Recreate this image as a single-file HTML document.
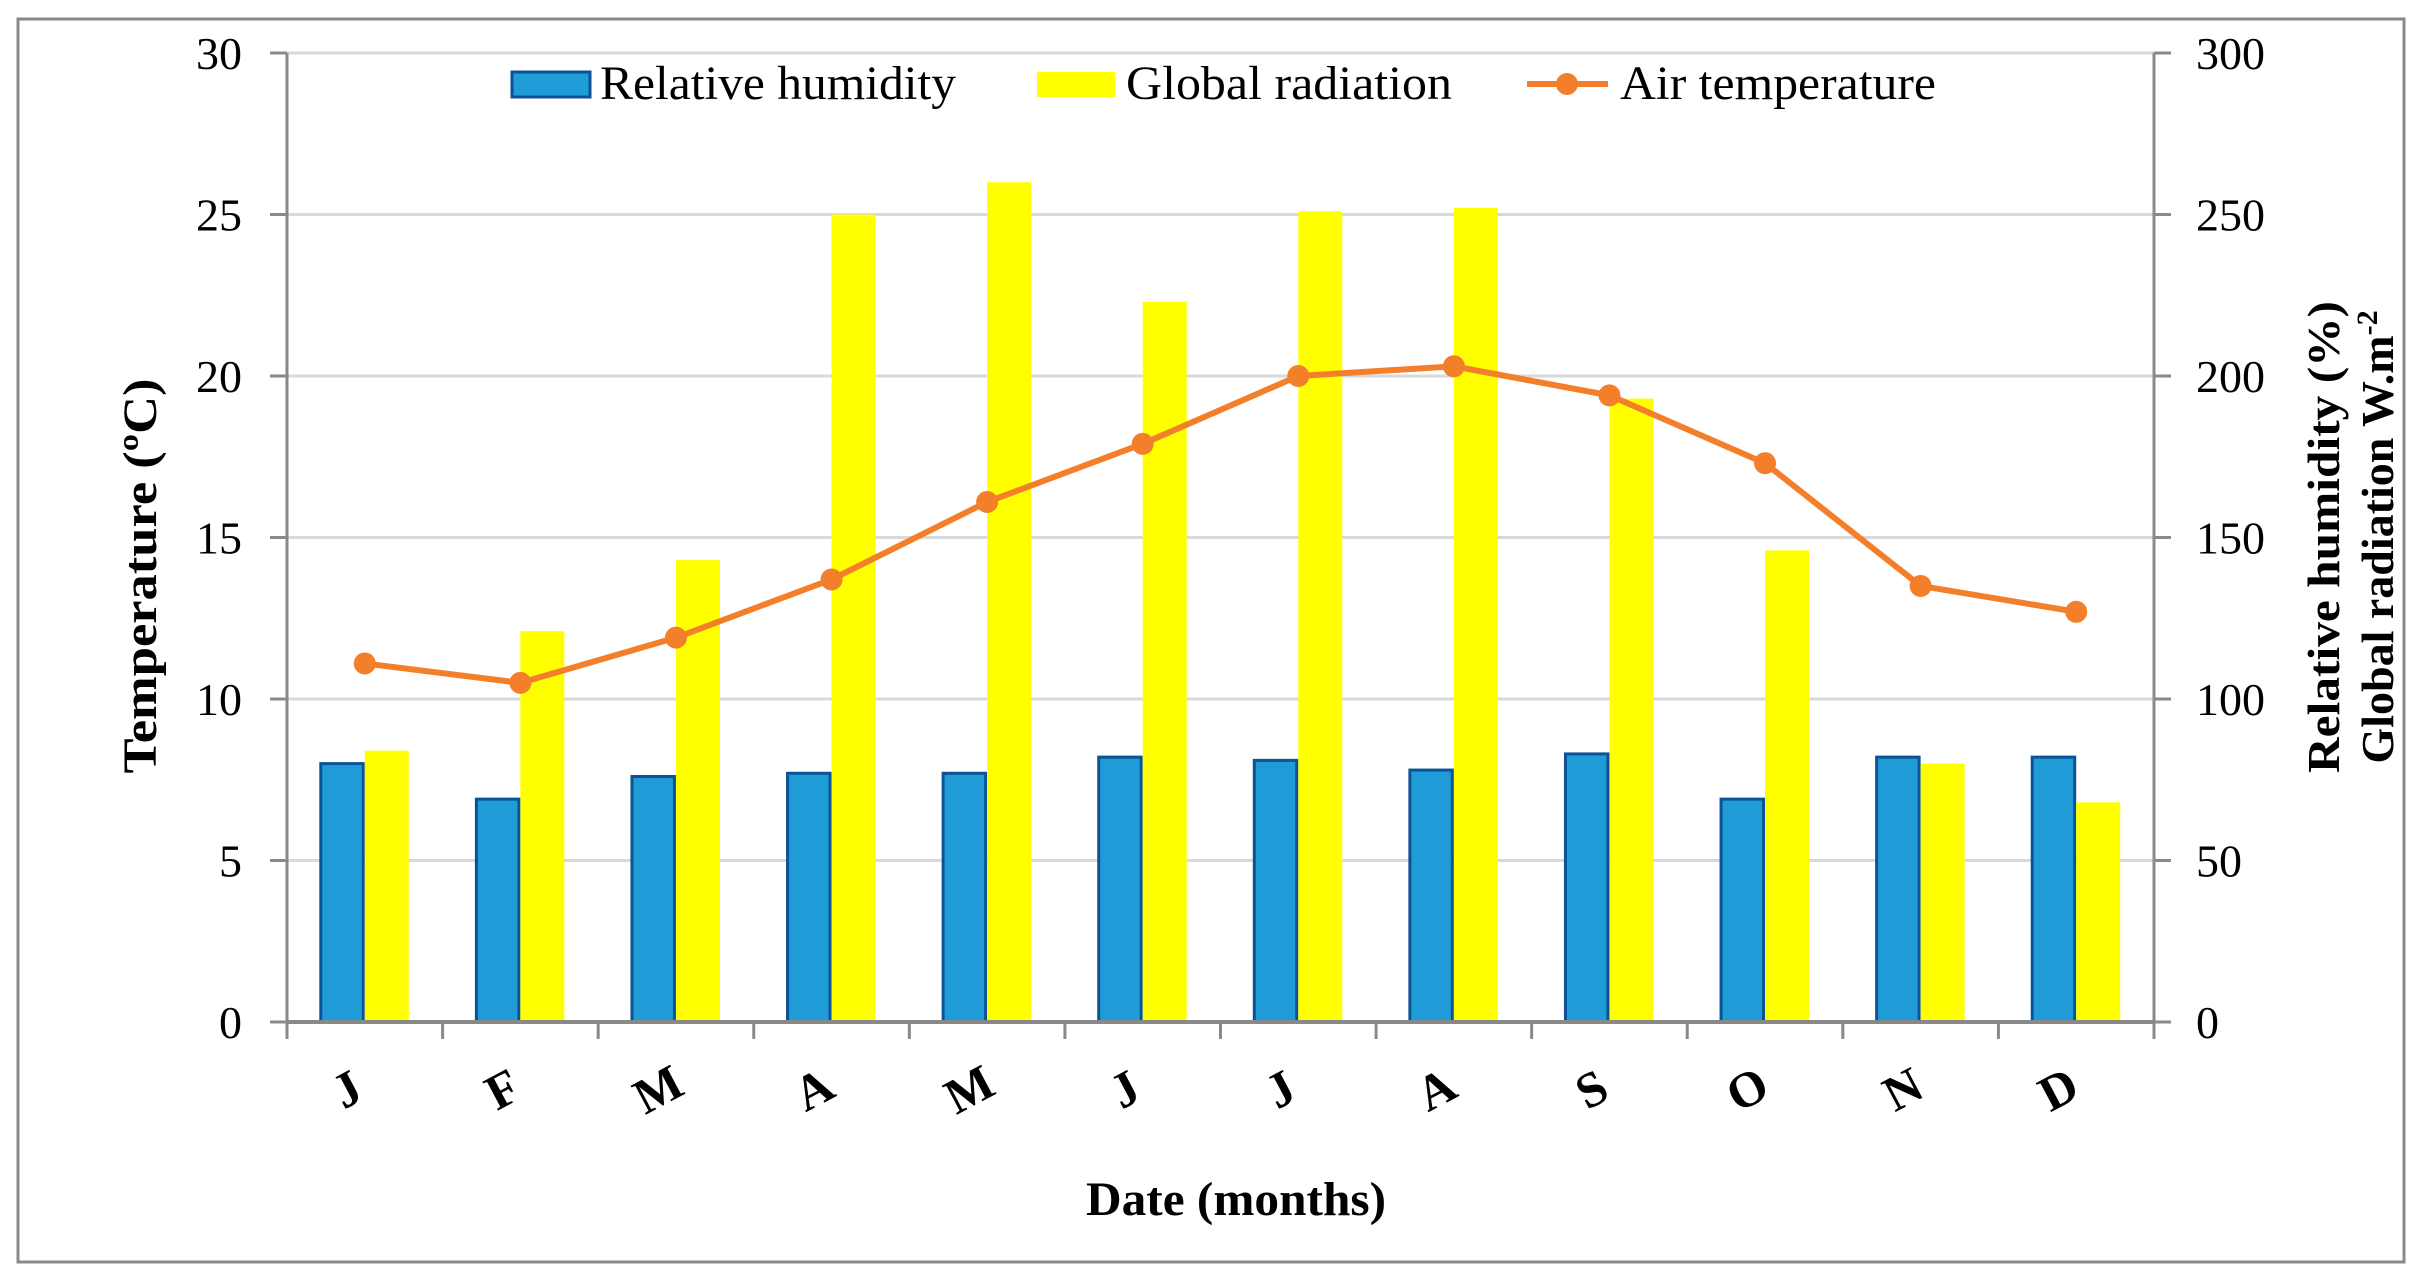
<!DOCTYPE html>
<html><head><meta charset="utf-8"><style>
html,body{margin:0;padding:0;background:#fff}
svg{display:block}
text{font-family:"Liberation Serif",serif}
</style></head><body>
<svg id="chart" width="2430" height="1288" viewBox="0 0 2430 1288" xmlns="http://www.w3.org/2000/svg">
<rect x="18" y="19" width="2386" height="1243" fill="#fff" stroke="#898989" stroke-width="3"/>
<g id="grid"></g>
<g id="bars"></g>
<g id="line"></g>
<g id="axes"></g>
<g>
  <rect x="512" y="72" width="78" height="25" fill="#1F9BD7" stroke="#0B5394" stroke-width="3"/>
  <text x="600" y="99" font-size="48" textLength="356" lengthAdjust="spacingAndGlyphs">Relative humidity</text>
  <rect x="1037" y="72" width="78" height="25" fill="#FFFF00"/>
  <text x="1126" y="99" font-size="48" textLength="326" lengthAdjust="spacingAndGlyphs">Global radiation</text>
  <line x1="1527" y1="84" x2="1608" y2="84" stroke="#F47F2A" stroke-width="6"/>
  <circle cx="1567" cy="84" r="11" fill="#F47F2A"/>
  <text x="1620" y="99" font-size="48" textLength="316" lengthAdjust="spacingAndGlyphs">Air temperature</text>
</g>
<text x="1236" y="1215" font-size="48" font-weight="bold" text-anchor="middle" textLength="300" lengthAdjust="spacingAndGlyphs">Date (months)</text>
<text transform="translate(156,576) rotate(-90)" font-size="48" font-weight="bold" text-anchor="middle" textLength="395" lengthAdjust="spacingAndGlyphs">Temperature (ºC)</text>
<text transform="translate(2339,537) rotate(-90)" font-size="46" font-weight="bold" text-anchor="middle" textLength="472" lengthAdjust="spacingAndGlyphs">Relative humidity (%)</text>
<text transform="translate(2393,537) rotate(-90)" font-size="46" font-weight="bold" text-anchor="middle">Global radiation W.m<tspan font-size="30" dy="-16">-2</tspan></text>
</svg>
<script>
const months = ["J","F","M","A","M","J","J","A","S","O","N","D"];
const humidity = [80,69,76,77,77,82,81,78,83,69,82,82];
const radiation = [84,121,143,250,260,223,251,252,193,146,80,68];
const temperature = [11.1,10.5,11.9,13.7,16.1,17.9,20.0,20.3,19.4,17.3,13.5,12.7];
const leftTicks = [0,5,10,15,20,25,30];
const rightTicks = [0,50,100,150,200,250,300];

const NS = "http://www.w3.org/2000/svg";
const X0 = 287, X1 = 2154, Y0 = 1022, Y1 = 53;
const step = (X1 - X0) / months.length;
const yL = v => Y0 - (v / 30) * (Y0 - Y1);
const yR = v => Y0 - (v / 300) * (Y0 - Y1);
const xc = i => X0 + step * (i + 0.5);
function mk(tag, attrs, parent) {
  const e = document.createElementNS(NS, tag);
  for (const k in attrs) e.setAttribute(k, attrs[k]);
  parent.appendChild(e);
  return e;
}
const grid = document.getElementById('grid');
const bars = document.getElementById('bars');
const line = document.getElementById('line');
const axes = document.getElementById('axes');

leftTicks.forEach((t, i) => {
  if (t > 0) {
    const g = mk('line', {x1: X0, x2: X1, y1: yL(t), y2: yL(t), stroke: '#D9D9D9', 'stroke-width': 3}, grid);
    
    
  }
  const tk = mk('line', {x1: X0 - 17, x2: X0, y1: yL(t), y2: yL(t), stroke: '#898989', 'stroke-width': 3}, axes);
  
  
  const lb = mk('text', {x: 242, y: yL(t) + 16, 'font-size': 46, 'text-anchor': 'end'}, axes);
  lb.textContent = t;
  
  
});
rightTicks.forEach(t => {
  const tk = mk('line', {x1: X1, x2: X1 + 17, y1: yR(t), y2: yR(t), stroke: '#898989', 'stroke-width': 3}, axes);
  
  
  const lb = mk('text', {x: 2196, y: yR(t) + 16, 'font-size': 46}, axes);
  lb.textContent = t;
  
  
});

const bw = 44;
months.forEach((m, i) => {
  const c = xc(i);
  const b1 = mk('rect', {x: c - bw, y: yR(humidity[i]), width: bw - 1.5, height: Y0 - yR(humidity[i]), fill: '#1F9BD7', stroke: '#0B5394', 'stroke-width': 3}, bars);
  
  
  const b2 = mk('rect', {x: c, y: yR(radiation[i]), width: bw, height: Y0 - yR(radiation[i]), fill: '#FFFF00'}, bars);
  
  
  const tk = mk('line', {x1: X0 + step * i, x2: X0 + step * i, y1: Y0, y2: Y0 + 17, stroke: '#898989', 'stroke-width': 3}, axes);
  
  
  const lb = mk('text', {transform: `translate(${c - 10},${Y0 + 82}) rotate(-28)`, 'font-size': 50, 'font-weight': 'bold', 'text-anchor': 'middle'}, axes);
  lb.textContent = m;
  
  
});
const lastTick = mk('line', {x1: X1, x2: X1, y1: Y0, y2: Y0 + 17, stroke: '#898989', 'stroke-width': 3}, axes);



const pts = temperature.map((v, i) => xc(i) + ',' + yL(v)).join(' ');
const pl = mk('polyline', {points: pts, fill: 'none', stroke: '#F47F2A', 'stroke-width': 6, 'stroke-linejoin': 'round'}, line);


temperature.forEach((v, i) => {
  const c = mk('circle', {cx: xc(i), cy: yL(v), r: 11, fill: '#F47F2A'}, line);
  
  
});

const la = mk('line', {x1: X0, x2: X0, y1: Y1, y2: Y0, stroke: '#898989', 'stroke-width': 3}, axes);


const ra = mk('line', {x1: X1, x2: X1, y1: Y1, y2: Y0, stroke: '#898989', 'stroke-width': 3}, axes);


const xa = mk('line', {x1: X0, x2: X1, y1: Y0, y2: Y0, stroke: '#898989', 'stroke-width': 4}, axes);


</script>
</body></html>
